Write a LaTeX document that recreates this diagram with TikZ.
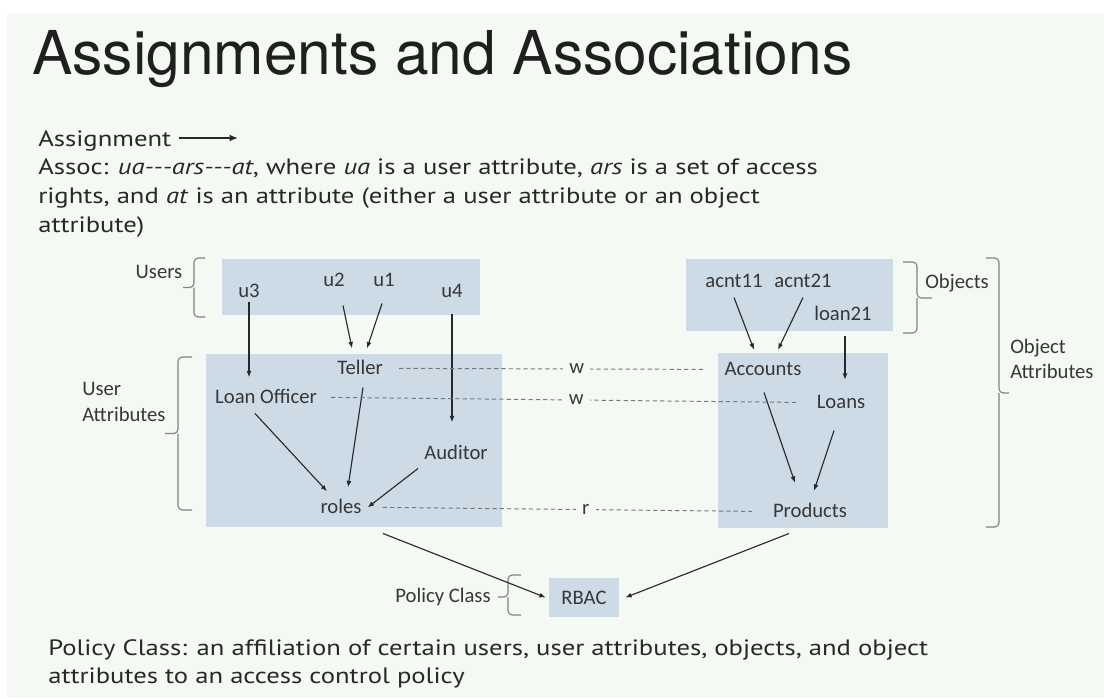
\documentclass[tikz,border=0pt]{standalone}
\usepackage{fontspec}
\newfontfamily\titlefont{TeX Gyre Heros}
\newfontfamily\bodyfont{PT Sans}[FakeStretch=1.2]
\newfontfamily\labfont{Carlito}
\usetikzlibrary{arrows.meta,calc}
\definecolor{pagebg}{RGB}{244,250,243}
\definecolor{boxfill}{RGB}{205,219,231}
\definecolor{ink}{RGB}{40,40,40}
\definecolor{lab}{RGB}{55,55,55}
\definecolor{dashc}{RGB}{120,120,120}
\definecolor{bracec}{RGB}{130,130,130}

\begin{document}
\begin{tikzpicture}[x=0.025cm,y=-0.025cm,
  every node/.style={inner sep=0pt},
  lbl/.style={font=\labfont\fontsize{14.7}{16}\selectfont, text=lab, text height=11pt, text depth=3pt, anchor=base},
  body/.style={font=\bodyfont\fontsize{15.8}{18}\selectfont, text=ink, anchor=base west},
  arr/.style={draw=ink, line width=0.8pt, -{Latex[length=4.5pt,width=3.5pt]}},
  assoc/.style={draw=dashc, line width=0.7pt, dash pattern=on 3pt off 2.2pt},
  rel/.style={font=\labfont\fontsize{14.7}{16}\selectfont, text=lab, fill=pagebg, inner xsep=4.5pt, inner ysep=1pt},
  brc/.style={draw=bracec, line width=0.8pt, rounded corners=3pt},
]
% page
\fill[white] (0,0) rectangle (1104,698);
\fill[pagebg] (7,13) rectangle (1104,698);
\useasboundingbox (0,0) rectangle (1104,698);

% heading and explanatory text
\node[anchor=base west, font=\titlefont\fontsize{43}{48}\selectfont, text=black!88] (title) at (32,74) {Assignments and Associations};
\node[body] (asg) at (38,146) {Assignment};
\coordinate (asgend) at (238,138);
\draw[draw=ink, line width=1.3pt, -{Latex[length=6pt,width=5pt]}] ($(asg.base east)+(8,-8)$) -- (asgend);
\node[body] (assoc1) at (38,174) {Assoc: \textit{ua-\kern0pt-\kern0pt-ars-\kern0pt-\kern0pt-at}, where \textit{ua} is a user attribute, \textit{ars} is a set of access};
\node[body] (assoc2) at (38,203) {rights, and \textit{at} is an attribute (either a user attribute or an object};
\node[body] (assoc3) at (38,232) {attribute)};
\node[body] (pc1) at (48,655) {Policy Class: an affiliation of certain users, user attributes, objects, and object};
\node[body] (pc2) at (48,683) {attributes to an access control policy};

% shaded areas
\fill[boxfill] (222,259) rectangle (480,315);
\fill[boxfill] (206,354) rectangle (502,527);
\fill[boxfill] (686,259) rectangle (893,331);
\fill[boxfill] (718,353) rectangle (888,528);

% users and user attributes
\node[lbl] (u3) at (249,297) {u3};
\node[lbl] (u2) at (334,286) {u2};
\node[lbl] (u1) at (384,286) {u1};
\node[lbl] (u4) at (452,297) {u4};
\node[lbl] (teller) at (360,374) {Teller};
\node[lbl] (lo) at (266,403) {Loan Officer};
\node[lbl] (aud) at (456,459) {Auditor};
\node[lbl] (roles) at (341,513) {roles};

% objects and object attributes
\node[lbl] (a11) at (734,287) {acnt11};
\node[lbl] (a21) at (803,287) {acnt21};
\node[lbl] (l21) at (843,320) {loan21};
\node[lbl] (acc) at (763,375) {Accounts};
\node[lbl] (loans) at (841,408) {Loans};
\node[lbl] (prod) at (810,517) {Products};

% policy class
\node[lbl, anchor=center, fill=boxfill, text height=, text depth=, minimum width=49.8pt, minimum height=27.7pt] (rbac) at (584,597.5) {RBAC};

% group labels
\node[lbl] (usersL) at (159,278) {Users};
\node[lbl, anchor=base west] (uaL1) at (82,395) {User};
\node[lbl, anchor=base west] (uaL2) at (82,421) {Attributes};
\node[lbl, anchor=base west] (objL) at (925,288) {Objects};
\node[lbl, anchor=base west] (oaL1) at (1010,353) {Object};
\node[lbl, anchor=base west] (oaL2) at (1010,378) {Attributes};
\node[lbl] (pcL) at (443,602) {Policy Class};

% braces: hooks, spine, centre tick
\draw[brc] (205,258) -| (194,287.5) -- (183,287.5);
\draw[brc] (205,317) -| (194,287.5);
\draw[brc] (192,357) -| (178,433.5) -- (165,433.5);
\draw[brc] (192,510) -| (178,433.5);
\draw[brc] (903,262) -| (917,298) -- (932,298);
\draw[brc] (903,333) -| (917,298);
\draw[brc] (986,258) -| (999,393) -- (1009,393);
\draw[brc] (986,527) -| (999,393);
\draw[brc] (521,575) -| (508,597) -- (498,597);
\draw[brc] (521,615) -| (508,597);

% assignments
\draw[arr] (u3.south) -- ($(u3.south |- lo.north)+(0,-10)$);
\draw[arr] ($(u2.south)+(9,15)$) -- ($(teller.north)+(-8,-10)$);
\draw[arr] ($(u1.south)+(-2,13)$) -- ($(teller.north)+(7,-10)$);
\draw[arr] ($(u4.south)+(0,12)$) -- ($(aud.north)+(-4,-21)$);
\draw[arr] ($(lo.south)+(-11,6)$) -- ($(roles.north)+(-14,-6)$);
\draw[arr] ($(teller.south)+(3,9)$) -- ($(roles.north)+(7,-10)$);
\draw[arr] ($(aud.south)+(-38,5)$) -- ($(roles.east)+(6,0)$);
\draw[arr] ($(a11.south)+(0,6)$) -- ($(acc.north)+(-9,-9.5)$);
\draw[arr] ($(a21.south)+(0,6)$) -- ($(acc.north)+(15,-9.5)$);
\draw[arr] ($(l21.south)+(2,11)$) -- ($(loans.north)+(4,-12.5)$);
\draw[arr] ($(acc.south)+(1,13)$) -- ($(prod.north)+(-15,-18.5)$);
\draw[arr] ($(loans.south)+(-7,18)$) -- ($(prod.north)+(4,-10.5)$);
\draw[arr] ($(roles.south)+(42,16)$) -- ($(rbac.west)+(-3,0)$);
\draw[arr] ($(prod.south)+(-21,12)$) -- ($(rbac.east)+(6,0)$);

% associations
\draw[assoc] ($(teller.east)+(16,0)$) -- node[rel, pos=0.58] (w1) {w} ($(acc.west)+(-19,0)$);
\draw[assoc] ($(lo.east)+(14,0)$) -- node[rel, pos=0.527] (w2) {w} ($(loans.west)+(-20,0)$);
\draw[assoc] ($(roles.east)+(21,0)$) -- node[rel, pos=0.55] (r1) {r} ($(prod.west)+(-21,0)$);
\end{tikzpicture}
\end{document}
